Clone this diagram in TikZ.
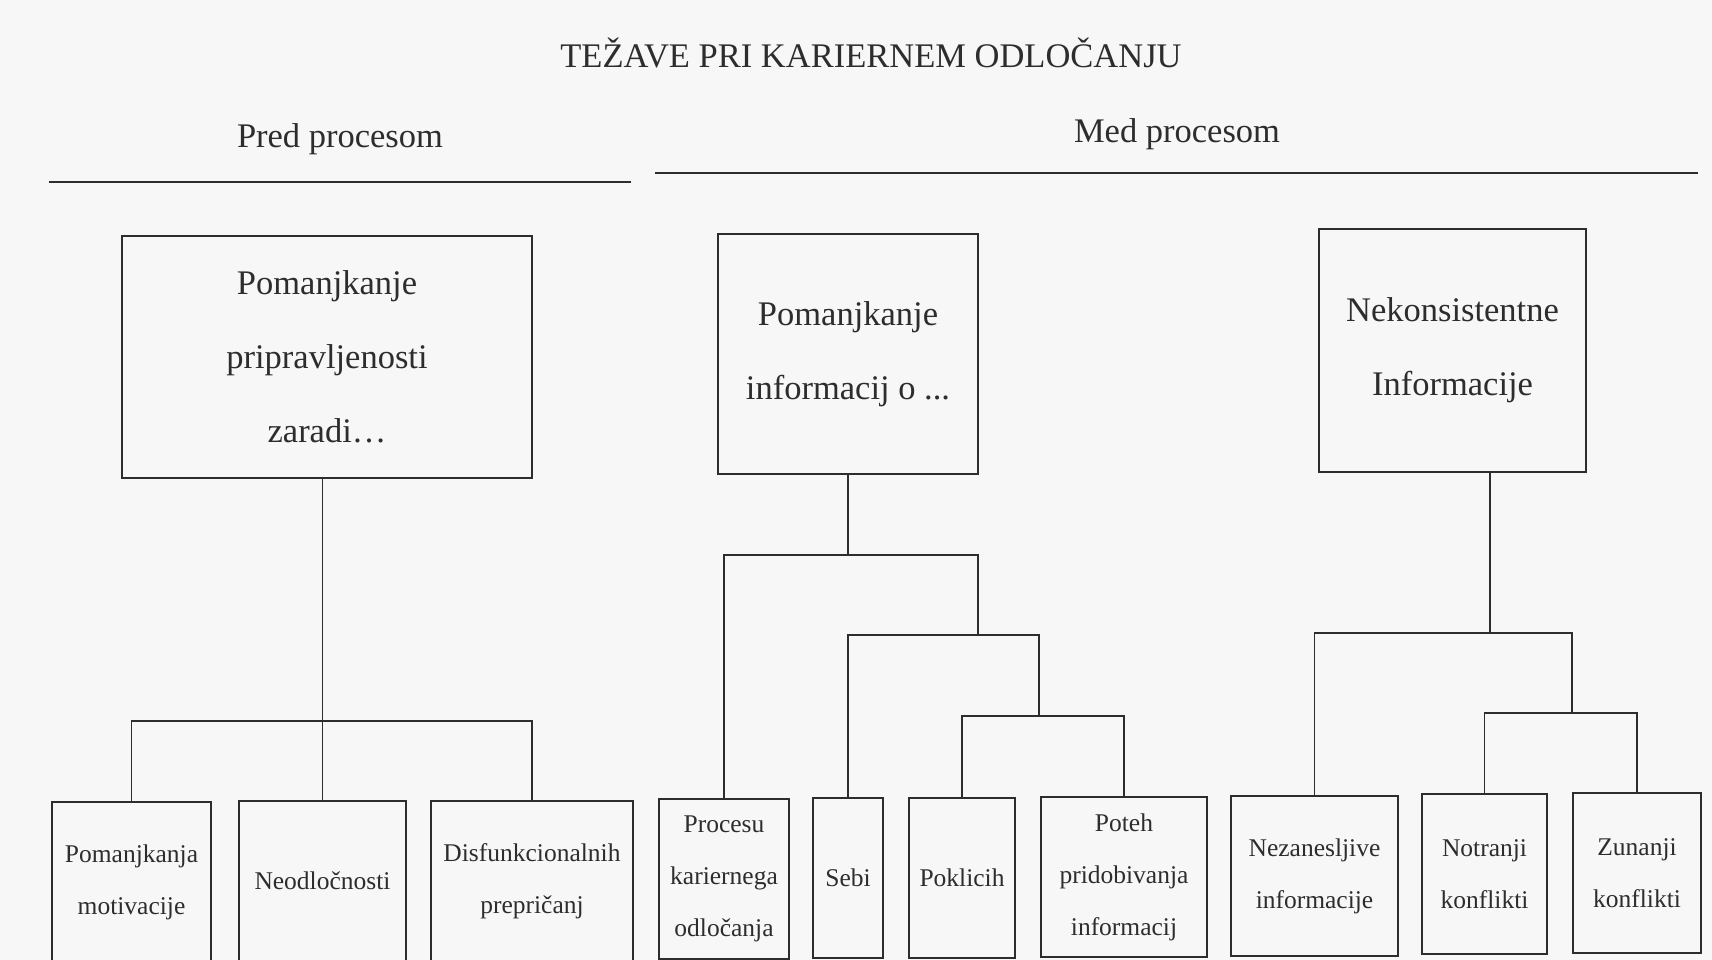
\documentclass[tikz,border=0pt]{standalone}
\usepackage{fontspec}
\setmainfont{Liberation Serif}
\definecolor{paper}{RGB}{247,247,247}
\definecolor{ink}{RGB}{45,45,45}
\begin{document}
\begin{tikzpicture}[x=1pt, y=-1pt,
    heading/.style={anchor=base, inner sep=0pt, text=ink, font=\fontsize{34.5}{40}\selectfont},
    group/.style={rectangle, draw=ink, line width=1.7pt, text=ink, align=center, inner sep=0pt, font=\fontsize{34.5}{74}\selectfont},
    leaf/.style={rectangle, draw=ink, line width=1.5pt, text=ink, align=center, inner sep=0pt, minimum height=160pt, font=\fontsize{25.5}{52}\selectfont},
    link/.style={draw=ink, line width=1.3pt},
    rule/.style={draw=ink, line width=1.8pt}
]
\fill[paper] (0,0) rectangle (1712,960);
\useasboundingbox (0,0) rectangle (1712,960);

% headings
\node[heading] (title) at (871,68) {TEŽAVE PRI KARIERNEM ODLOČANJU};
\node[heading] (pred) at (340,148) {Pred procesom};
\node[heading] (med) at (1177,143) {Med procesom};
\draw[rule] (49,182) -- (631,182);
\draw[rule] (655,173) -- (1698,173);

% main groups
\node[group, minimum width=410pt, minimum height=242pt] (b1) at (327,357) {Pomanjkanje\\pripravljenosti\\zaradi…};
\node[group, minimum width=260pt, minimum height=240pt] (b2) at (848,354) {Pomanjkanje\\informacij o ...};
\node[group, minimum width=267pt, minimum height=243pt] (b3) at (1452.5,350.5) {Nekonsistentne\\Informacije};

% leaves
\node[leaf, minimum width=159pt] (l1) at (131.5,882) {Pomanjkanja\\motivacije};
\node[leaf, minimum width=167pt] (l2) at (322.5,881) {Neodločnosti};
\node[leaf, minimum width=202pt] (l3) at (532,881) {Disfunkcionalnih\\prepričanj};
\node[leaf, minimum width=130pt] (l4) at (724,879) {Procesu\\kariernega\\odločanja};
\node[leaf, minimum width=70pt] (l5) at (848,878) {Sebi};
\node[leaf, minimum width=106pt] (l6) at (962,878) {Poklicih};
\node[leaf, minimum width=166pt] (l7) at (1124,877) {Poteh\\pridobivanja\\informacij};
\node[leaf, minimum width=167pt] (l8) at (1314.5,876) {Nezanesljive\\informacije};
\node[leaf, minimum width=125pt] (l9) at (1484.5,874) {Notranji\\konflikti};
\node[leaf, minimum width=128pt] (l10) at (1637,873) {Zunanji\\konflikti};

% junctions
\coordinate (j1) at (322.5,721);
\coordinate (j2) at (848,555);
\coordinate (j3) at (978,635);
\coordinate (j4) at (1039,716);
\coordinate (j5) at (1490,633);
\coordinate (j6) at (1572,713);

% tree lines
\draw[link] (l2.north |- b1.south) -- (l2.north);
\draw[link] (l1.north) |- (j1) -| (l3.north);

\draw[link] (b2.south) -- (j2);
\draw[link] (l4.north) |- (j2) -| (j3);
\draw[link] (l5.north) |- (j3) -| (j4);
\draw[link] (l6.north) |- (j4) -| (l7.north);

\draw[link] (b3.south -| j5) -- (j5);
\draw[link] (l8.north) |- (j5) -| (j6);
\draw[link] (l9.north) |- (j6) -| (l10.north);

\end{tikzpicture}
\end{document}
